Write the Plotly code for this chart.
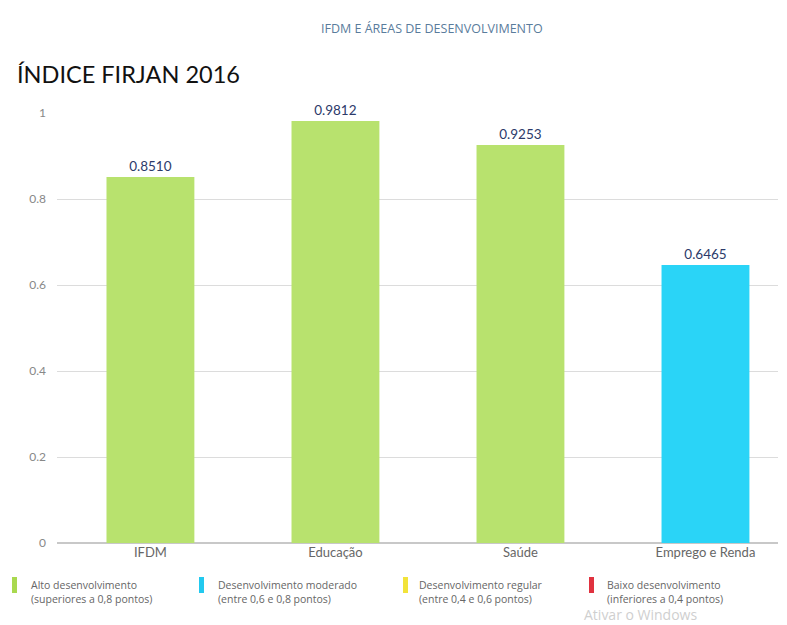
import plotly.graph_objects as go

categories = ["IFDM", "Educação", "Saúde", "Emprego e Renda"]
values = [0.8510, 0.9812, 0.9253, 0.6465]
value_labels = ["0.8510", "0.9812", "0.9253", "0.6465"]
bar_colors = ["#b8e26e", "#b8e26e", "#b8e26e", "#2ad4f7"]
y_ticks = [0, 0.2, 0.4, 0.6, 0.8, 1]
y_tick_labels = ["0", "0.2", "0.4", "0.6", "0.8", "1"]
legend_colors = ["#a9d94f", "#22c9ef", "#f2e33a", "#e0323f"]
legend_line1 = ["Alto desenvolvimento", "Desenvolvimento moderado", "Desenvolvimento regular", "Baixo desenvolvimento"]
legend_line2 = ["(superiores a 0,8 pontos)", "(entre 0,6 e 0,8 pontos)", "(entre 0,4 e 0,6 pontos)", "(inferiores a 0,4 pontos)"]

# page has an 8px body margin; figure sized so the page fits the window
OFF = 8
W, H = 787 - OFF, 625 - OFF
# plot area in window pixels: x 57..778, y 113 (1.0) .. 543 (0)
L = 57 - OFF
R = W - (778 - OFF)
T = 113 - OFF
B = H - (543 - OFF)

def px_x(x):
    return (x - OFF - L) / (W - L - R)

def px_y(y):
    return (H - (y - OFF) - B) / (H - T - B)

fig = go.Figure()
fig.add_trace(go.Bar(
    x=categories, y=values, marker=dict(color=bar_colors, line=dict(width=0)),
    width=0.475, text=value_labels, textposition="outside",
    textfont=dict(family="Lato", size=13.5, color="#2c3a6a"),
    cliponaxis=False, hoverinfo="skip",
))

fig.update_layout(
    width=W, height=H, margin=dict(l=L, r=R, t=T, b=B, pad=0),
    paper_bgcolor="white", plot_bgcolor="white", showlegend=False,
    font=dict(family="Lato", color="#777"),
    xaxis=dict(range=[-0.505, 3.392], showgrid=False, showline=False, zeroline=False,
               tickfont=dict(size=13, color="#666"), ticks=""),
    yaxis=dict(range=[0, 1], tickvals=y_ticks, ticktext=y_tick_labels,
               showgrid=True, gridcolor="#dcdcdc", gridwidth=1, zeroline=True,
               zerolinecolor="#c8c8c8", tickfont=dict(size=12, color="#888"),
               ticklabelstandoff=10, showline=False),
)

def add_text(text, x, y, size, color, anchor="left", family="Lato"):
    fig.add_annotation(xref="paper", yref="paper", x=px_x(x), y=px_y(y), text=text,
                       xanchor=anchor, yanchor="middle", showarrow=False, borderpad=0,
                       font=dict(size=size, color=color, family=family))

add_text("IFDM E ÁREAS DE DESENVOLVIMENTO", 432, 29, 12.5, "#5a7c9c", anchor="center", family="Open Sans")
add_text("ÍNDICE FIRJAN 2016", 16, 74, 23.5, "#111")

leg_sw = [12, 199, 403, 589]
leg_tx = [30, 217, 418, 606]
for i in range(4):
    fig.add_shape(type="rect", xref="paper", yref="paper",
                  x0=px_x(leg_sw[i]), x1=px_x(leg_sw[i] + 5), y0=px_y(593), y1=px_y(577),
                  fillcolor=legend_colors[i], line=dict(width=0))
    add_text(legend_line1[i], leg_tx[i], 585, 10.5, "#666", family="Open Sans")
    add_text(legend_line2[i], leg_tx[i], 599, 10.5, "#666", family="Open Sans")

add_text("Ativar o Windows", 583, 614, 14, "#cfcfcf", family="Open Sans")

fig.write_html("out.html")
